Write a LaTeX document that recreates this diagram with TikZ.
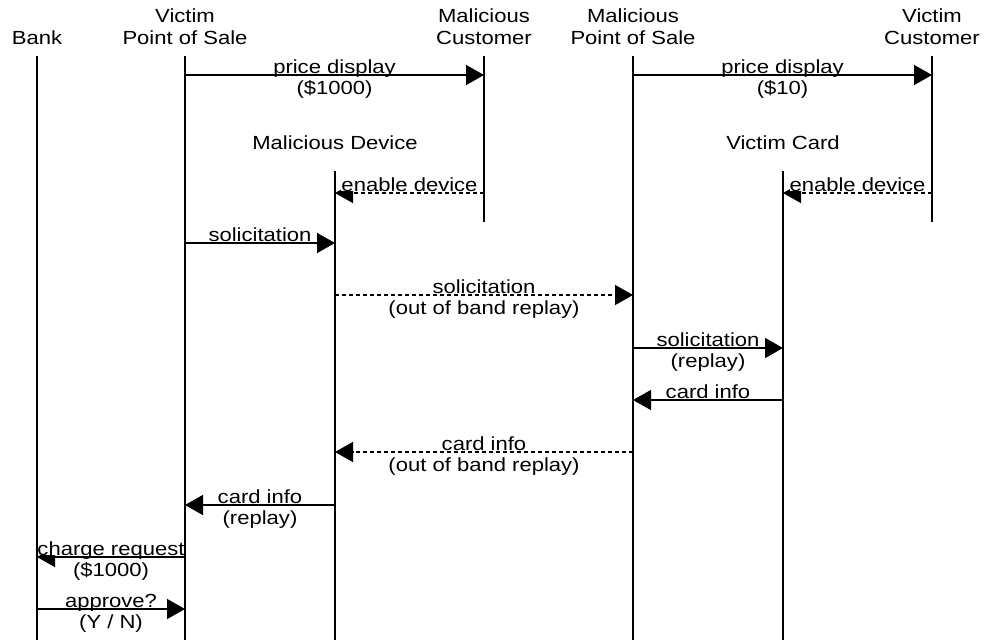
\documentclass[tikz,border=0pt]{standalone}
\usepackage{fontspec}
\setmainfont[FakeStretch=1.16]{Liberation Sans}
\usetikzlibrary{arrows.meta}
\tikzset{
  shead/.style={inner sep=0pt, anchor=south, align=center,
                font=\fontsize{19}{22}\selectfont},
  slife/.style={line width=1.5pt, black},
  smsg/.style ={-{Triangle[length=18pt,width=20pt]}, line width=1.5pt, black},
  smsgd/.style={smsg, dash pattern=on 4pt off 3pt},
  slbl/.style ={fill=white, inner sep=0pt, text depth=0pt, anchor=base, yshift=2pt,
                font=\fontsize{19}{22}\selectfont},
  slblb/.style={inner sep=0pt, anchor=base, yshift=-19.5pt,
                font=\fontsize{19}{22}\selectfont},
}
\begin{document}
\begin{tikzpicture}[x=1pt, y=-1pt]
  \useasboundingbox (0,0) rectangle (984,640);
  \node[shead] (bank)  at (37,45)   {Bank};
  \node[shead] (vpos)  at (185,45)  {Victim\\Point of Sale};
  \node[shead] (mcust) at (484,45)  {Malicious\\Customer};
  \node[shead] (mpos)  at (633,45)  {Malicious\\Point of Sale};
  \node[shead] (vcust) at (932,45)  {Victim\\Customer};
  \node[shead] (mdev)  at (335,150) {Malicious Device};
  \node[shead] (vcard) at (783,150) {Victim Card};

  \draw[smsg]  (vpos |- 0,75)  -- node[slbl]{price display} node[slblb]{(\$1000)} (mcust |- 0,75);
  \draw[smsg]  (mpos |- 0,75)  -- node[slbl]{price display} node[slblb]{(\$10)} (vcust |- 0,75);
  \draw[smsgd] (mcust |- 0,193) -- node[slbl]{enable device} (mdev |- 0,193);
  \draw[smsgd] (vcust |- 0,193) -- node[slbl]{enable device} (vcard |- 0,193);
  \draw[smsg]  (vpos |- 0,243) -- node[slbl]{solicitation} (mdev |- 0,243);
  \draw[smsgd] (mdev |- 0,295) -- node[slbl]{solicitation} node[slblb]{(out of band replay)} (mpos |- 0,295);
  \draw[smsg]  (mpos |- 0,348) -- node[slbl]{solicitation} node[slblb]{(replay)} (vcard |- 0,348);
  \draw[smsg]  (vcard |- 0,400) -- node[slbl]{card info} (mpos |- 0,400);
  \draw[smsgd] (mpos |- 0,452) -- node[slbl]{card info} node[slblb]{(out of band replay)} (mdev |- 0,452);
  \draw[smsg]  (mdev |- 0,505) -- node[slbl]{card info} node[slblb]{(replay)} (vpos |- 0,505);
  \draw[smsg]  (vpos |- 0,557) -- node[slbl]{charge request} node[slblb]{(\$1000)} (bank |- 0,557);
  \draw[smsg]  (bank |- 0,609) -- node[slbl]{approve?} node[slblb]{(Y / N)} (vpos |- 0,609);

  \foreach \n/\t/\b in {bank/56/640, vpos/56/640, mcust/56/222, mpos/56/640,
                        vcust/56/222, mdev/171/640, vcard/171/640}
    \draw[slife] (\n |- 0,\t) -- (\n |- 0,\b);
\end{tikzpicture}
\end{document}
